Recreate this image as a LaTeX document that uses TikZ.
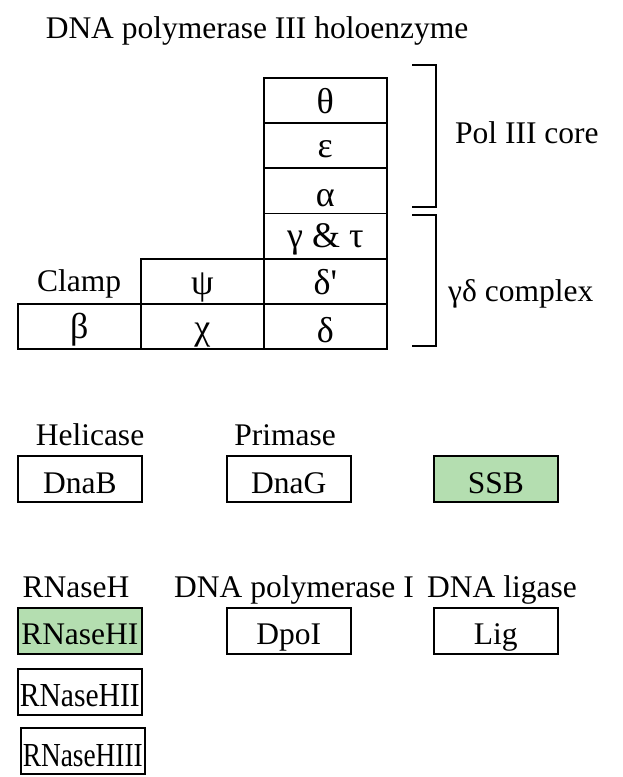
\documentclass[tikz,border=0pt]{standalone}
\usepackage{fontspec}
\setmainfont{Liberation Serif}
\definecolor{ssbgreen}{RGB}{180,222,176}
\begin{document}
\begin{tikzpicture}[x=1pt,y=-1pt,
  every node/.style={font=\fontsize{31.5}{36}\selectfont, inner sep=0pt},
  cell/.style={draw=black, line width=1.6pt, minimum width=123pt, minimum height=45pt, anchor=north west},
  gene/.style={draw=black, line width=1.6pt, minimum width=124pt, minimum height=46pt, anchor=north west},
  txt/.style={anchor=base},
  grk/.style={anchor=base, font=\fontsize{36}{40}\selectfont},
  brk/.style={draw=black, line width=1.6pt}]
\useasboundingbox (0,0) rectangle (623,777);
% title
\node[txt] (title) at (257,38) {DNA polymerase III holoenzyme};
% core column
\node[cell] (theta) at (263,77) {};
\node[cell] (eps) at (263,122) {};
\node[cell] (alpha) at (263,167.5) {};
\node[cell] (gamtau) at (263,212.5) {};
\node[cell] (deltap) at (263,258) {};
\node[cell] (delta) at (263,303) {};
\node[cell] (psi) at (140,258) {};
\node[cell] (chi) at (140,303) {};
\node[cell] (beta) at (17,303) {};
\node[grk] at ([yshift=10pt]theta.south) {θ};
\node[grk] at ([yshift=11pt]eps.south) {ε};
\node[grk] at ([yshift=8pt]alpha.south) {α};
\node[grk] at ([yshift=12pt]gamtau.south) {γ \& τ};
\node[grk] at ([yshift=10pt]deltap.south) {δ\textquotesingle};
\node[grk] at ([yshift=7pt]delta.south) {δ};
\node[grk] at ([yshift=10pt]psi.south) {ψ};
\node[grk] at ([yshift=10pt]chi.south) {χ};
\node[grk] at ([yshift=11pt]beta.south) {β};
\node[txt] (clamp) at (79,291) {Clamp};
% brackets
\draw[brk] (412,65) -- (436,65) -- (436,207) -- (412,207);
\draw[brk] (412,215) -- (436,215) -- (436,346) -- (412,346);
\node[txt, anchor=base west] (core) at (455,143) {Pol III core};
\node[txt, anchor=base west] (gd) at (448,301) {γδ complex};
% helicase etc.
\node[txt] (hel) at (90,445) {Helicase};
\node[txt] (pri) at (285,445) {Primase};
\node[gene] (dnab) at (17,455) {};
\node[gene] (dnag) at (226,455) {};
\node[gene, fill=ssbgreen] (ssb) at (433,455) {};
\node[txt] at ([yshift=9pt]dnab.south) {DnaB};
\node[txt] at ([yshift=9pt]dnag.south) {DnaG};
\node[txt] at ([yshift=9pt]ssb.south) {SSB};
% bottom row
\node[txt] (rnh) at (76,597) {RNaseH};
\node[txt] (pol1) at (294,597) {DNA polymerase I};
\node[txt] (lig) at (502,597) {DNA ligase};
\node[gene, fill=ssbgreen] (rnh1) at (17,607) {};
\node[gene] (dpo) at (226,607) {};
\node[gene] (ligb) at (433,607) {};
\node[gene] (rnh2) at (17,668) {};
\node[gene] (rnh3) at (20,727) {};
\node[txt] at ([yshift=10pt]rnh1.south) {\resizebox{117pt}{!}{RNaseHI}};
\node[txt] at ([yshift=10pt]dpo.south) {DpoI};
\node[txt] at ([yshift=10pt]ligb.south) {Lig};
\node[txt] at ([yshift=9pt]rnh2.south) {\resizebox{120pt}{22pt}{RNaseHII}};
\node[txt] at ([yshift=8pt]rnh3.south) {\resizebox{120pt}{22pt}{RNaseHIII}};
\end{tikzpicture}
\end{document}
